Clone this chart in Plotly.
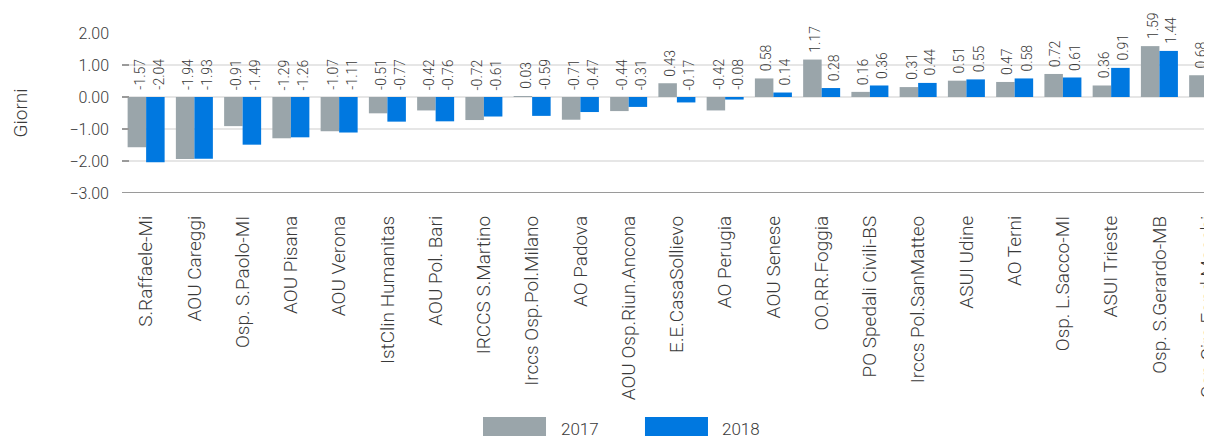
import plotly.graph_objects as go

categories = [
    "S.Raffaele-Mi", "AOU Careggi", "Osp. S.Paolo-MI", "AOU Pisana", "AOU Verona",
    "IstClin Humanitas", "AOU Pol. Bari", "IRCCS S.Martino", "Irccs Osp.Pol.Milano",
    "AO Padova", "AOU Osp.Riun.Ancona", "E.E.CasaSollievo", "AO Perugia", "AOU Senese",
    "OO.RR.Foggia", "PO Spedali Civili-BS", "Irccs Pol.SanMatteo", "ASUI Udine",
    "AO Terni", "Osp. L.Sacco-MI", "ASUI Trieste", "Osp. S.Gerardo-MB",
    "Osp.Circ.Fond.Macchi",
]
values_2017 = [-1.57, -1.94, -0.91, -1.29, -1.07, -0.51, -0.42, -0.72, 0.03, -0.71,
               -0.44, 0.43, -0.42, 0.58, 1.17, 0.16, 0.31, 0.51, 0.47, 0.72, 0.36,
               1.59, 0.68]
values_2018 = [-2.04, -1.93, -1.49, -1.26, -1.11, -0.77, -0.76, -0.61, -0.59, -0.47,
               -0.31, -0.17, -0.08, 0.14, 0.28, 0.36, 0.44, 0.55, 0.58, 0.61, 0.91,
               1.44, 1.63]
series_names = ["2017", "2018"]
y_ticks = [-3, -2, -1, 0, 1, 2]

GRAY = "#9aa5aa"
BLUE = "#0078e0"
FONT = "Roboto"
TXT = "#3a3a3a"

fig = go.Figure()
fig.add_trace(go.Bar(x=categories, y=values_2017, name=series_names[0],
                     marker=dict(color=GRAY, line=dict(width=0)), showlegend=False))
fig.add_trace(go.Bar(x=categories, y=values_2018, name=series_names[1],
                     marker=dict(color=BLUE, line=dict(width=0)), showlegend=False))

annotations = []
for vals, shift in ((values_2017, -7), (values_2018, 12)):
    for c, v in zip(categories, vals):
        annotations.append(dict(
            x=c, y=max(v, 0), xref="x", yref="y", text=f"{v:.2f}",
            textangle=-90, showarrow=False, xanchor="center", yanchor="bottom",
            xshift=shift, yshift=5,
            font=dict(family=FONT, size=14, color=TXT, weight=300),
        ))

# legend drawn as boxes + text below the chart
legend_items = [(series_names[0], GRAY, 0.3312, 0.389, 0.401),
                (series_names[1], BLUE, 0.4798, 0.5376, 0.5486)]
shapes = []
for name, col, x0, x1, xt in legend_items:
    shapes.append(dict(type="rect", xref="paper", yref="paper", x0=x0, x1=x1,
                       y0=-1.56, y1=-1.40, fillcolor=col, line=dict(width=0)))
    annotations.append(dict(x=xt, y=-1.478, xref="paper", yref="paper", text=name,
                            showarrow=False, xanchor="left", yanchor="middle",
                            font=dict(family=FONT, size=17, color=TXT, weight=300)))

# page body adds an 8px offset, so the figure is 8px smaller than the window
fig.update_layout(
    width=1204, height=428,
    margin=dict(l=114, r=0, t=25, b=243, pad=0, autoexpand=False),
    paper_bgcolor="white", plot_bgcolor="white",
    barmode="group", bargap=0.233, bargroupgap=0,
    font=dict(family=FONT, size=16, color=TXT, weight=300),
    annotations=annotations, shapes=shapes,
    xaxis=dict(
        type="category", range=[-0.5, 22.09], tickangle=-90, automargin=False,
        showgrid=False, showline=False, ticks="", ticklabelstandoff=18,
        tickfont=dict(family=FONT, size=19, color=TXT, weight=300), zeroline=False,
    ),
    yaxis=dict(
        range=[-3, 2], tickvals=y_ticks, tickformat=".2f", automargin=False,
        showgrid=True, gridcolor="#e6e6e6", gridwidth=1.5,
        zeroline=False, showline=False,
        ticks="inside", ticklen=7, tickcolor="#9a9a9a", tickwidth=1.5,
        ticklabelstandoff=12,
        tickfont=dict(family=FONT, size=16, color=TXT, weight=300),
        title=dict(text="Giorni", standoff=36,
                   font=dict(family=FONT, size=19, color=TXT, weight=300)),
    ),
)
# darker baseline at the bottom of the plot
fig.add_hline(y=-3, line=dict(color="#9a9a9a", width=2), layer="above")

fig.write_html("out.html")
